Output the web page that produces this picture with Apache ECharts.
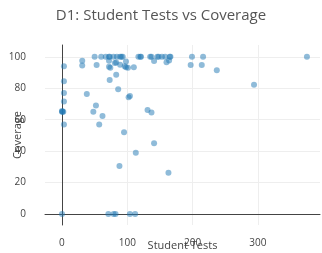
<!DOCTYPE html>
<html>
<head>
<meta charset="utf-8">
<script src="https://cdn.jsdelivr.net/npm/echarts@6/dist/echarts.min.js"></script>
<style>
    html, body { margin: 0; padding: 0; background: #fff; }
    #chart { width: 322px; height: 253px; }
</style>
</head>
<body>
<div id="chart"></div>
<script>
    // student tests per project (x) and coverage % (y)
    var studentTests = [
        0, 3, 3, 3, 3, 0, 1, 2, 0, 3,
        31, 31, 38, 50, 53, 52, 48, 57, 62, 60,
        67, 72, 73, 79, 84, 89, 91, 93, 72, 83,
        81, 89, 98, 98, 96, 101, 72, 74, 73, 83,
        86, 102, 104, 95, 110, 117, 120, 121, 135, 137,
        141, 146, 148, 153, 158, 160, 164, 165, 166, 199,
        197, 214, 216, 237, 294, 375, 131, 137, 141, 113,
        88, 163, 71, 79, 82, 104, 112
    ];
    var coverage = [
        0, 94, 84.5, 77, 71.5, 65, 65, 65, 65.5, 57,
        97.5, 94.5, 76.4, 100, 94.7, 69, 65, 57, 62.4, 100,
        100, 100, 100, 100, 100, 100, 100, 100, 97.5, 96.4,
        96, 95, 97, 93.3, 94, 93, 93.6, 93, 85.3, 88.6,
        79.3, 74.2, 75, 52, 93.4, 100, 100, 100, 100, 100,
        97.4, 100, 100, 100, 100, 96.5, 97.6, 100, 100, 100,
        94.8, 94.8, 100, 91.5, 82.2, 100, 66.2, 64.6, 45, 39,
        30.6, 26.3, 0, 0, 0, 0, 0
    ];

    var points = [];
    studentTests.forEach(function (x, i) {
        points.push([x, coverage[i]]);
    });

    var chart = echarts.init(document.getElementById('chart'));
    var textColor = '#444';
    var fontFamily = '"Open Sans", Verdana, sans-serif';

    chart.setOption({
        backgroundColor: '#fff',
        animation: false,
        title: {
            text: 'D1: Student Tests vs Coverage',
            left: 'center',
            top: 3,
            textStyle: {
                color: '#555',
                fontSize: 15,
                fontWeight: 'normal',
                fontFamily: fontFamily
            }
        },
        grid: {
            left: 45,
            right: 2,
            top: 45,
            bottom: 28,
            containLabel: false,
            outerBoundsMode: 'none'
        },
        xAxis: {
            type: 'value',
            min: -26,
            max: 395,
            name: 'Student Tests',
            nameLocation: 'middle',
            nameGap: 15,
            nameMoveOverlap: false,
            nameTextStyle: { color: textColor, fontSize: 11, fontFamily: fontFamily },
            axisLine: { show: true, onZero: true, lineStyle: { color: '#444', width: 1 } },
            axisTick: { show: false },
            axisLabel: {
                color: textColor, fontSize: 10, fontFamily: fontFamily, margin: 13,
                showMinLabel: false, showMaxLabel: false
            },
            splitLine: { show: true, showMinLine: false, showMaxLine: false, lineStyle: { color: '#eee', width: 1 } }
        },
        yAxis: {
            type: 'value',
            min: -7,
            max: 107.5,
            name: 'Coverage',
            nameLocation: 'middle',
            nameGap: 22,
            nameMoveOverlap: false,
            nameTextStyle: { color: textColor, fontSize: 11, fontFamily: fontFamily },
            axisLine: { show: true, onZero: true, lineStyle: { color: '#444', width: 1 } },
            axisTick: { show: false },
            axisLabel: {
                color: textColor, fontSize: 10, fontFamily: fontFamily, margin: 19,
                showMinLabel: false, showMaxLabel: false
            },
            splitLine: { show: true, showMinLine: false, showMaxLine: false, lineStyle: { color: '#eee', width: 1 } }
        },
        series: [{
            type: 'scatter',
            data: points,
            symbolSize: 6,
            itemStyle: {
                color: '#1f77b4',
                opacity: 0.5
            }
        }]
    });
</script>
</body>
</html>
